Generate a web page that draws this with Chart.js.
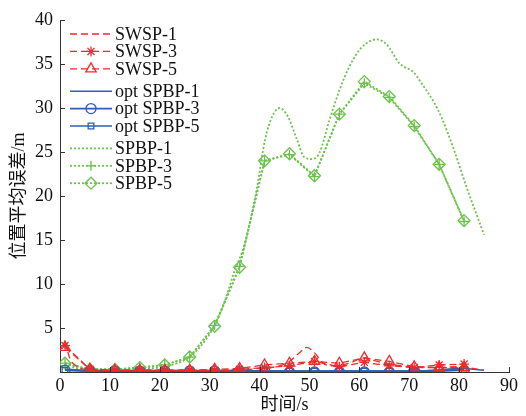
<!DOCTYPE html>
<html>
<head>
<meta charset="utf-8">
<script src="https://cdn.jsdelivr.net/npm/chart.js@4/dist/chart.umd.min.js"></script>
<style>
  html, body { margin: 0; padding: 0; background: #fff; }
  #wrap { width: 526px; height: 416px; }
</style>
</head>
<body>
<div id="wrap"><canvas id="myChart" width="526" height="416"></canvas></div>
<script>
// marker series: sampled every 5 s
var tMark = [1, 6, 11, 16, 21, 26, 31, 36, 41, 46, 51, 56, 61, 66, 71, 76, 81];
var swsp3 = [3.0, 0.3, 0.2, 0.2, 0.2, 0.2, 0.2, 0.3, 0.5, 0.7, 1.2, 0.6, 1.1, 0.7, 0.5, 0.8, 0.9];
var swsp5 = [2.8, 0.3, 0.2, 0.2, 0.2, 0.2, 0.3, 0.4, 0.8, 1.0, 1.2, 1.0, 1.6, 1.2, 0.6, 0.5, 0.5];
var optSpbp3 = [0.2, 0.1, 0.1, 0.1, 0.1, 0.1, 0.1, 0.1, 0.1, 0.0, 0.0, 0.0, 0.0, 0.0, 0.0, 0.1, 0.2];
var optSpbp5 = [0.2, 0.1, 0.1, 0.1, 0.1, 0.1, 0.1, 0.1, 0.1, 0.1, 0.1, 0.1, 0.1, 0.1, 0.1, 0.2, 0.3];
var spbp3 = [1.0, 0.3, 0.3, 0.5, 0.8, 1.7, 5.3, 12.0, 24.0, 24.7, 22.2, 29.3, 32.8, 31.2, 27.9, 23.6, 17.1];
var spbp5 = [1.0, 0.3, 0.3, 0.5, 0.8, 1.7, 5.2, 11.9, 24.0, 24.8, 22.3, 29.3, 33.0, 31.3, 28.0, 23.6, 17.2];

// smooth series (no markers)
var tSwsp1 = [1, 2, 3, 5, 8, 15, 25, 35, 40, 44, 46, 48, 49.5, 51, 53, 55, 58, 61, 63, 66, 70, 75, 80, 85];
var swsp1 = [3.5, 1.5, 0.8, 0.3, 0.2, 0.2, 0.2, 0.2, 0.4, 0.7, 1.2, 2.2, 2.8, 2.2, 0.9, 0.7, 1.0, 1.6, 1.3, 0.9, 0.6, 0.5, 0.6, 0.2];
var tOpt1 = [1, 10, 20, 30, 40, 50, 60, 70, 75, 80, 85];
var optSpbp1 = [0.3, 0.1, 0.1, 0.1, 0.1, 0.1, 0.1, 0.1, 0.2, 0.4, 0.2];
var tSpbp1 = [1, 3, 6, 10, 15, 20, 23, 26, 29, 31, 33, 35, 37, 39.4, 41.1, 42.5, 44, 45.7, 47.5, 49, 50.5, 52, 54, 56, 58, 60.5, 63.5, 65.5, 68, 71, 72, 75, 76.5, 79, 81.5, 85];
var spbp1 = [1.0, 0.5, 0.3, 0.3, 0.4, 0.5, 0.9, 1.7, 3.5, 5.3, 8.0, 11.5, 14.5, 20.7, 26.4, 29.0, 30.0, 29.0, 26.4, 24.4, 24.2, 24.9, 28.6, 32.0, 34.7, 36.9, 37.8, 37.2, 35.1, 34.0, 33.2, 30.6, 28.9, 25.2, 21.0, 15.6];

var xTicks = [0, 10, 20, 30, 40, 50, 60, 70, 80, 90];
var yTicks = [0, 5, 10, 15, 20, 25, 30, 35, 40];

var RED = '#ee2a2a', BLUE = '#2f5fb3', GREEN = '#6cc24c';
var FONT = '"Liberation Serif", "Times New Roman", "Noto Sans CJK SC", serif';

function pts(xs, ys) {
  return xs.map(function (x, i) { return { x: x, y: ys[i] }; });
}

function ds(label, xs, ys, color, dash, style, radius, smooth, width) {
  return {
    label: label,
    data: pts(xs, ys),
    borderColor: color,
    borderWidth: width || 1.3,
    borderDash: dash,
    pointStyle: style || false,
    pointRadius: style ? radius : 0,
    pointBorderColor: color,
    pointBackgroundColor: 'rgba(0,0,0,0)',
    pointBorderWidth: 1.3,
    tension: smooth ? 0.4 : 0,
    cubicInterpolationMode: smooth ? 'monotone' : 'default',
    fill: false
  };
}

var datasets = [
  ds('SWSP-1', tSwsp1, swsp1, RED, [7, 4], null, 0, true),
  ds('SWSP-3', tMark, swsp3, RED, [7, 4], 'star', 5, false),
  ds('SWSP-5', tMark, swsp5, RED, [7, 4], 'triangle', 6, false),
  ds('opt SPBP-1', tOpt1, optSpbp1, BLUE, [], null, 0, true, 1.6),
  ds('opt SPBP-3', tMark, optSpbp3, BLUE, [], 'circle', 5, false, 1.6),
  ds('opt SPBP-5', tMark, optSpbp5, BLUE, [], 'rect', 4, false, 1.6),
  ds('SPBP-1', tSpbp1, spbp1, GREEN, [2, 2], null, 0, true, 1.8),
  ds('SPBP-3', tMark, spbp3, GREEN, [2, 2], 'cross', 5, false, 1.8),
  ds('SPBP-5', tMark, spbp5, GREEN, [2, 2], 'rectRot', 6, false, 1.8)
];

// inward tick marks like the original figure
var inwardTicks = {
  id: 'inwardTicks',
  afterDraw: function (chart) {
    var ctx = chart.ctx, x = chart.scales.x, y = chart.scales.y;
    ctx.save();
    ctx.strokeStyle = '#333';
    ctx.lineWidth = 1;
    yTicks.forEach(function (v) {
      var py = Math.round(y.getPixelForValue(v)) + 0.5;
      ctx.beginPath(); ctx.moveTo(x.left, py); ctx.lineTo(x.left + 5, py); ctx.stroke();
    });
    xTicks.forEach(function (v) {
      var px = Math.round(x.getPixelForValue(v)) + 0.5;
      ctx.beginPath(); ctx.moveTo(px, y.bottom); ctx.lineTo(px, y.bottom - 5); ctx.stroke();
    });
    ctx.restore();
  }
};

// legend drawn inside the plot, top-left, no box
var innerLegend = {
  id: 'innerLegend',
  afterDraw: function (chart) {
    var ctx = chart.ctx;
    ctx.save();
    chart.data.datasets.forEach(function (d, i) {
      var ry = 34 + i * 17.4 + Math.floor(i / 3) * 5;
      var x0 = 70, x1 = 112;
      ctx.strokeStyle = d.borderColor;
      ctx.lineWidth = d.borderWidth;
      ctx.setLineDash(d.borderDash || []);
      ctx.beginPath(); ctx.moveTo(x0, ry); ctx.lineTo(x1, ry); ctx.stroke();
      ctx.setLineDash([]);
      if (d.pointStyle) {
        ctx.strokeStyle = d.borderColor;
        ctx.fillStyle = 'rgba(0,0,0,0)';
        ctx.lineWidth = d.pointBorderWidth;
        Chart.helpers.drawPoint(ctx, {
          pointStyle: d.pointStyle, radius: d.pointRadius, borderWidth: d.pointBorderWidth, rotation: 0
        }, (x0 + x1) / 2, ry);
      }
      ctx.fillStyle = '#111';
      ctx.font = '18px ' + FONT;
      ctx.textBaseline = 'middle';
      ctx.textAlign = 'left';
      ctx.fillText(d.label, 115, ry + 1);
    });
    ctx.restore();
  }
};

var ctx = document.getElementById('myChart').getContext('2d');
var chart = new Chart(ctx, {
  type: 'line',
  data: { datasets: datasets },
  plugins: [inwardTicks, innerLegend],
  options: {
    responsive: false,
    animation: false,
    layout: { padding: { left: 8, right: 17, top: 20, bottom: 0 } },
    plugins: { legend: { display: false }, tooltip: { enabled: false } },
    scales: {
      x: {
        type: 'linear',
        min: 0, max: 90,
        afterBuildTicks: function (s) { s.ticks = xTicks.map(function (v) { return { value: v }; }); },
        afterFit: function (s) { s.height = 44; },
        grid: { drawOnChartArea: false, drawTicks: false },
        border: { color: '#333', width: 1 },
        ticks: { color: '#111', padding: 3, maxRotation: 0, font: { family: FONT, size: 18 } },
        title: { display: true, text: '时间/s', color: '#111', padding: 0, font: { family: FONT, size: 18 } }
      },
      y: {
        min: 0, max: 40,
        afterBuildTicks: function (s) { s.ticks = yTicks.map(function (v) { return { value: v }; }); },
        afterFit: function (s) { s.width = 52; },
        grid: { drawOnChartArea: false, drawTicks: false },
        border: { color: '#333', width: 1 },
        ticks: {
          color: '#111', padding: 7, font: { family: FONT, size: 18 },
          callback: function (v) { return v === 0 ? '' : v; }
        },
        title: { display: true, text: '位置平均误差/m', color: '#111', padding: 0, font: { family: FONT, size: 18 } }
      }
    }
  }
});
</script>
</body>
</html>
